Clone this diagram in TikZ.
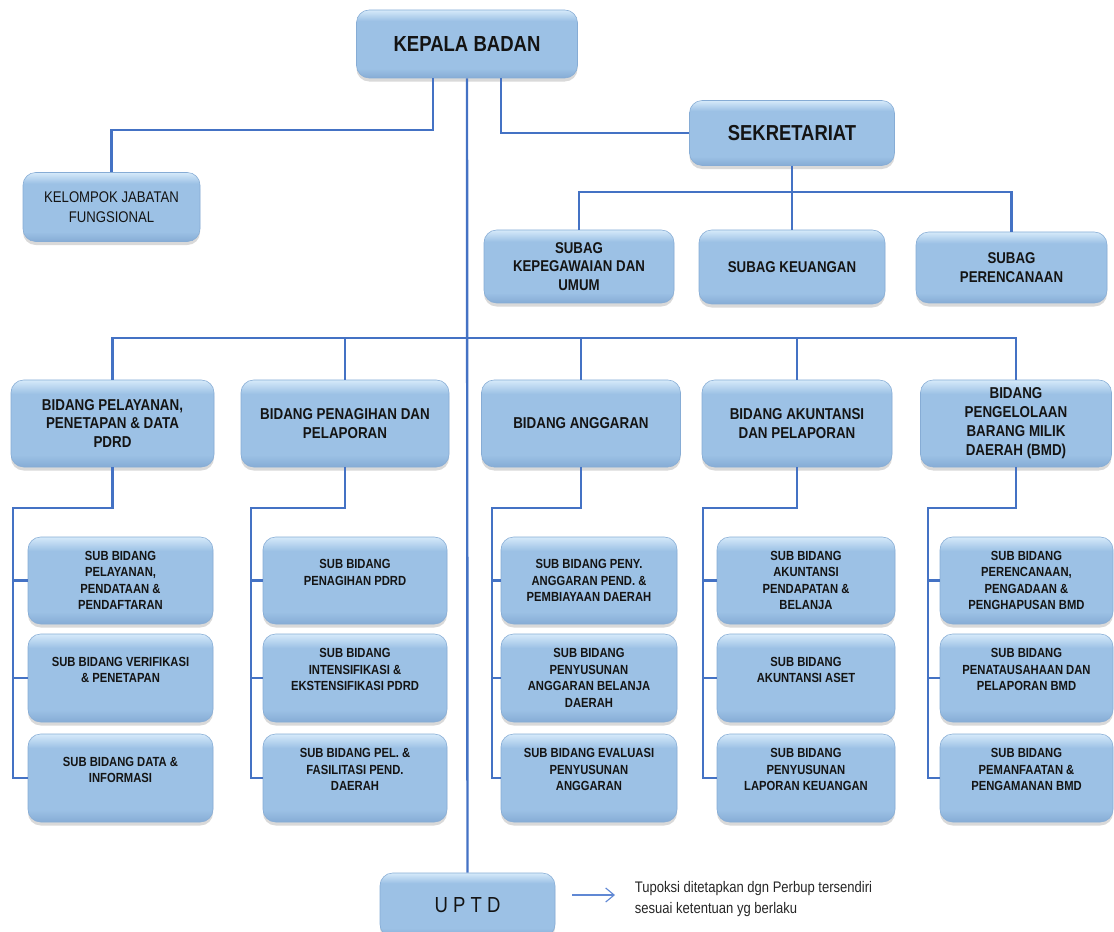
\documentclass[tikz,border=0pt]{standalone}
\usepackage{fontspec}
\setmainfont{Liberation Sans}[FakeStretch = 0.85]
\usetikzlibrary{calc, shadows, arrows.meta}

\newlength\pxu
\setlength\pxu{0.025cm}
\definecolor{boxtop}{RGB}{214,234,250}
\definecolor{boxmid}{RGB}{156,193,229}
\definecolor{boxbot}{RGB}{134,172,213}
\definecolor{linkblue}{RGB}{68,114,196}
\definecolor{noteblue}{RGB}{96,136,212}
\pgfdeclareverticalshading{boxshade}{100bp}{color(0bp)=(boxbot); color(25bp)=(boxbot); color(32bp)=(boxmid); color(67bp)=(boxmid); color(75bp)=(boxtop); color(100bp)=(boxtop)}

\tikzset{
    box/.style = {rounded corners = 9pt, shading = boxshade, draw = boxbot, line width = .4pt,
        drop shadow = {shadow xshift = 0pt, shadow yshift = -2.5pt, opacity = .3},
        align = center, inner sep = 2pt, text = black!92},
    head/.style = {box, font = \fontsize{15.5}{18}\selectfont\bfseries},
    unit/.style = {box, font = \fontsize{11.2}{13.5}\selectfont\bfseries},
    subunit/.style = {box, font = \fontsize{9.4}{11.7}\selectfont\bfseries},
    link/.style = {draw = linkblue, line width = 1.7pt},
    note/.style = {draw = noteblue, line width = .8pt, -{Straight Barb[length = 6pt, width = 10pt]}},
}

\begin{document}
\begin{tikzpicture}[x = 0.025cm, y = -0.025cm]
    \useasboundingbox (0, 0) rectangle (1114, 932);

    \node[head, minimum width = 221\pxu, minimum height = 68\pxu] (kepala) at (467, 44) {KEPALA BADAN};
    \node[head, font = \fontsize{15.4}{18}\selectfont\bfseries, minimum width = 205\pxu, minimum height = 65\pxu] (sek) at (792, 133) {SEKRETARIAT};
    \node[box, font = \fontsize{11}{14.5}\selectfont, minimum width = 177\pxu, minimum height = 69\pxu] (kjf) at (111.5, 207) {KELOMPOK JABATAN\\FUNGSIONAL};

    \node[unit, font = \fontsize{11.1}{13}\selectfont\bfseries, minimum width = 190\pxu, minimum height = 73\pxu] (sg1) at (579, 266.5) {SUBAG\\KEPEGAWAIAN DAN\\UMUM};
    \node[unit, font = \fontsize{11.1}{13}\selectfont\bfseries, minimum width = 186\pxu, minimum height = 74\pxu] (sg2) at (792, 267) {SUBAG KEUANGAN};
    \node[unit, font = \fontsize{11.1}{13}\selectfont\bfseries, minimum width = 191\pxu, minimum height = 71\pxu] (sg3) at (1011.5, 267.5) {SUBAG\\PERENCANAAN};

    \node[unit, minimum width = 203\pxu, minimum height = 87\pxu] (b1) at (112.5, 423.5) {BIDANG PELAYANAN,\\PENETAPAN \& DATA\\PDRD};
    \node[unit, minimum width = 208\pxu, minimum height = 87\pxu] (b2) at (345, 423.5) {BIDANG PENAGIHAN DAN\\PELAPORAN};
    \node[unit, minimum width = 199\pxu, minimum height = 87\pxu] (b3) at (581, 423.5) {BIDANG ANGGARAN};
    \node[unit, minimum width = 190\pxu, minimum height = 87\pxu] (b4) at (797, 423.5) {BIDANG AKUNTANSI\\DAN PELAPORAN};
    \node[unit, minimum width = 191\pxu, minimum height = 87\pxu] (b5) at (1016, 423.5) {BIDANG\\PENGELOLAAN\\BARANG MILIK\\DAERAH (BMD)};

    \node[subunit, minimum width = 185\pxu, minimum height = 87\pxu] (p11) at (120.5, 580.5) {SUB BIDANG\\PELAYANAN,\\PENDATAAN \&\\PENDAFTARAN};
    \node[subunit, minimum width = 185\pxu, minimum height = 88\pxu] (p12) at (120.5, 678) {SUB BIDANG VERIFIKASI\\\& PENETAPAN\\\mbox{}};
    \node[subunit, minimum width = 185\pxu, minimum height = 88\pxu] (p13) at (120.5, 778) {SUB BIDANG DATA \&\\INFORMASI\\\mbox{}};

    \node[subunit, minimum width = 184\pxu, minimum height = 87\pxu] (p21) at (355, 580.5) {SUB BIDANG\\PENAGIHAN PDRD\\\mbox{}};
    \node[subunit, minimum width = 184\pxu, minimum height = 88\pxu] (p22) at (355, 678) {SUB BIDANG\\INTENSIFIKASI \&\\EKSTENSIFIKASI PDRD\\\mbox{}};
    \node[subunit, minimum width = 184\pxu, minimum height = 88\pxu] (p23) at (355, 778) {SUB BIDANG PEL. \&\\FASILITASI PEND.\\DAERAH\\\mbox{}};

    \node[subunit, minimum width = 176\pxu, minimum height = 87\pxu] (p31) at (589, 580.5) {SUB BIDANG PENY.\\ANGGARAN PEND. \&\\PEMBIAYAAN DAERAH};
    \node[subunit, minimum width = 176\pxu, minimum height = 88\pxu] (p32) at (589, 678) {SUB BIDANG\\PENYUSUNAN\\ANGGARAN BELANJA\\DAERAH};
    \node[subunit, minimum width = 176\pxu, minimum height = 88\pxu] (p33) at (589, 778) {SUB BIDANG EVALUASI\\PENYUSUNAN\\ANGGARAN\\\mbox{}};

    \node[subunit, minimum width = 178\pxu, minimum height = 87\pxu] (p41) at (806, 580.5) {SUB BIDANG\\AKUNTANSI\\PENDAPATAN \&\\BELANJA};
    \node[subunit, minimum width = 178\pxu, minimum height = 88\pxu] (p42) at (806, 678) {SUB BIDANG\\AKUNTANSI ASET\\\mbox{}};
    \node[subunit, minimum width = 178\pxu, minimum height = 88\pxu] (p43) at (806, 778) {SUB BIDANG\\PENYUSUNAN\\LAPORAN KEUANGAN\\\mbox{}};

    \node[subunit, minimum width = 173\pxu, minimum height = 87\pxu] (p51) at (1026.5, 580.5) {SUB BIDANG\\PERENCANAAN,\\PENGADAAN \&\\PENGHAPUSAN BMD};
    \node[subunit, minimum width = 173\pxu, minimum height = 88\pxu] (p52) at (1026.5, 678) {SUB BIDANG\\PENATAUSAHAAN DAN\\PELAPORAN BMD\\\mbox{}};
    \node[subunit, minimum width = 173\pxu, minimum height = 88\pxu] (p53) at (1026.5, 778) {SUB BIDANG\\PEMANFAATAN \&\\PENGAMANAN BMD\\\mbox{}};

    \node[box, font = \fontsize{15.5}{18}\selectfont, minimum width = 175\pxu, minimum height = 64\pxu] (uptd) at (467.5, 905) {U P T D};
    \node[anchor = west, align = left, font = \fontsize{10.9}{14.5}\selectfont, text = black!85] (ket) at (630, 899) {Tupoksi ditetapkan dgn Perbup tersendiri\\sesuai ketentuan yg berlaku};

    % garis dari kepala badan
    \draw[link] ($(kepala.south)+(-34, 0)$) |- ($(kjf.north)+(0, -42)$) -- (kjf.north);
    \draw[link] ($(kepala.south)+(34, 0)$) |- (sek.west);
    \draw[link] (kepala.south) -- (uptd.north);
    \draw[link] (sek.south) -- ++(0, 26) coordinate (sbus);
    \draw[link] (sbus) -| (sg1.north);
    \draw[link] (sbus) -- (sg2.north);
    \draw[link] (sbus) -| (sg3.north);

    \coordinate (bus) at (467, 338);
    \draw[link] (bus) -| (b1.north);
    \draw[link] (bus) -| (b2.north);
    \draw[link] (bus) -| (b3.north);
    \draw[link] (bus) -| (b4.north);
    \draw[link] (bus) -| (b5.north);

    % bidang ke sub bidang
    \coordinate (s1) at (13, 508);
    \coordinate (s2) at (251, 508);
    \coordinate (s3) at (492, 508);
    \coordinate (s4) at (703, 508);
    \coordinate (s5) at (928, 508);
    \draw[link] (b1.south) |- (s1) |- (p13.west);
    \draw[link] (s1 |- p11.west) -- (p11.west);
    \draw[link] (s1 |- p12.west) -- (p12.west);
    \draw[link] (b2.south) |- (s2) |- (p23.west);
    \draw[link] (s2 |- p21.west) -- (p21.west);
    \draw[link] (s2 |- p22.west) -- (p22.west);
    \draw[link] (b3.south) |- (s3) |- (p33.west);
    \draw[link] (s3 |- p31.west) -- (p31.west);
    \draw[link] (s3 |- p32.west) -- (p32.west);
    \draw[link] (b4.south) |- (s4) |- (p43.west);
    \draw[link] (s4 |- p41.west) -- (p41.west);
    \draw[link] (s4 |- p42.west) -- (p42.west);
    \draw[link] (b5.south) |- (s5) |- (p53.west);
    \draw[link] (s5 |- p51.west) -- (p51.west);
    \draw[link] (s5 |- p52.west) -- (p52.west);

    \draw[note] ($(uptd.east)+(17, -10)$) -- ($(ket.west)+(-15, -4)$);
\end{tikzpicture}
\end{document}
